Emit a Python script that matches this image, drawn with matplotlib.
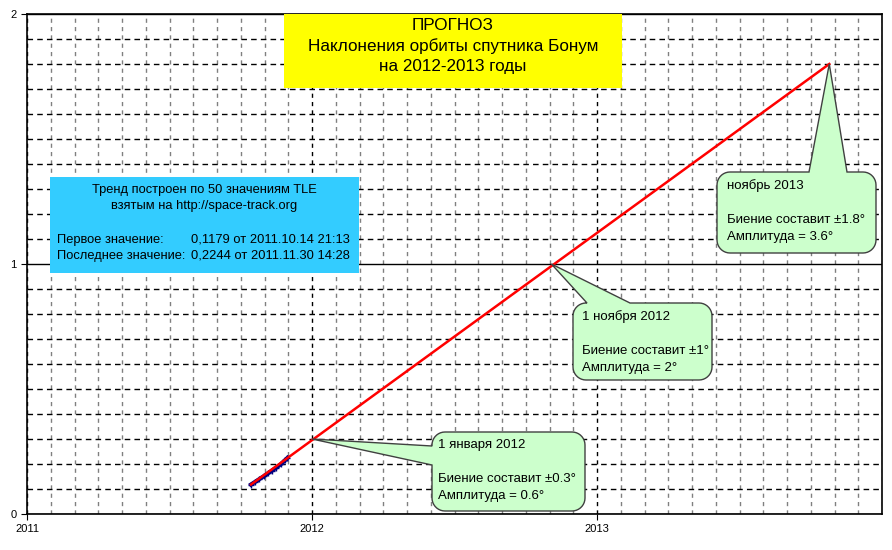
import numpy as np
import matplotlib
matplotlib.use('Agg')
import matplotlib.pyplot as plt
from matplotlib.patches import Polygon, Rectangle
from matplotlib.ticker import MultipleLocator

plt.rcParams['font.family'] = ['Liberation Sans', 'DejaVu Sans']

# TLE values (inclination deviation)
tle_x = [2011.786, 2011.800, 2011.815, 2011.830, 2011.845, 2011.860,
         2011.875, 2011.890, 2011.905, 2011.914]
tle_y = [0.1179, 0.1282, 0.1395, 0.1505, 0.1625, 0.1740,
         0.1860, 0.1985, 0.2150, 0.2244]

# trend line end points
trend_x = [2011.786, 2013.815]
trend_y = [0.1179, 1.80]

# callout anchor points on the trend
call_x = [2012.0, 2012.84, 2013.815]
call_y = [0.30, 1.0, 1.80]
call_txt = ['1 января 2012\n\nБиение составит ±0.3°\nАмплитуда = 0.6°',
            '1 ноября 2012\n\nБиение составит ±1°\nАмплитуда = 2°',
            'ноябрь 2013\n\nБиение составит ±1.8°\nАмплитуда = 3.6°']

year_ticks = [2011, 2012, 2013]
val_ticks = [0, 1, 2]

W, H = 892, 550
fig = plt.figure(figsize=(W / 100, H / 100), dpi=100)
ax = fig.add_axes([27 / W, 1 - 514 / H, 855 / W, 500 / H])

ax.set_xlim(2011, 2014)
ax.set_ylim(0, 2)
ax.set_xticks(year_ticks)
ax.set_xticklabels([str(y) for y in year_ticks])
ax.set_yticks(val_ticks)
ax.xaxis.set_minor_locator(MultipleLocator(1 / 12))
ax.yaxis.set_minor_locator(MultipleLocator(0.1))
ax.tick_params(which='minor', length=0)
ax.tick_params(which='major', length=4, labelsize=8, colors='black')

ax.grid(True, axis='y', which='minor', color='black', linestyle=(0, (4, 3)), lw=1)
ax.grid(True, axis='y', which='major', color='black', linestyle='-', lw=1)
ax.grid(True, axis='x', which='minor', color='#808080', linestyle=(0, (3, 3)), lw=1)
ax.grid(True, axis='x', which='major', color='black', linestyle=(0, (3, 3)), lw=1)
ax.set_axisbelow(True)
for s in ax.spines.values():
    s.set_color('black')
    s.set_linewidth(1.2)

ax.plot(tle_x, tle_y, color='#000080', lw=3, marker='+', ms=4, zorder=3)
ax.plot(trend_x, trend_y, color='#ff0000', lw=1.8, zorder=4)


def px(x, y):
    return x / W, 1 - y / H


def add_box(x0, y0, x1, y1, color):
    fig.add_artist(Rectangle(px(x0, y1), (x1 - x0) / W, (y1 - y0) / H,
                             transform=fig.transFigure, fc=color, ec='none', zorder=2))


def callout(x0, y0, x1, y1, side, b1, b2, tip, r=13):
    def arc(cx, cy, a0, a1):
        t = np.radians(np.linspace(a0, a1, 10))
        return list(zip(cx + r * np.cos(t), cy + r * np.sin(t)))
    pts = []
    pts += arc(x0 + r, y0 + r, 180, 270)
    if side == 'top':
        pts += [(b1, y0), tip, (b2, y0)]
    pts += arc(x1 - r, y0 + r, 270, 360)
    pts += arc(x1 - r, y1 - r, 0, 90)
    pts += arc(x0 + r, y1 - r, 90, 180)
    if side == 'left':
        pts += [(x0, b2), tip, (x0, b1)]
    pts = [px(a, b) for a, b in pts]
    fig.add_artist(Polygon(pts, closed=True, transform=fig.transFigure,
                           fc='#ccffcc', ec='#404040', lw=1, zorder=3))


def tip_px(x, y):
    dx, dy = ax.transData.transform((x, y))
    return dx, H - dy


# title box
add_box(284, 14, 622, 88, '#ffff00')
fig.text(*px(453, 46), 'ПРОГНОЗ\nНаклонения орбиты спутника Бонум\nна 2012-2013 годы',
         ha='center', va='center', fontsize=12.3, linespacing=1.4, zorder=5)

# info box
add_box(50, 177, 359, 273, '#33ccff')
fig.text(*px(204, 198), 'Тренд построен по 50 значениям TLE\nвзятым на http://space-track.org',
         ha='center', va='center', fontsize=9.3, linespacing=1.35, zorder=5)
first = f'{tle_y[0]:.4f}'.replace('.', ',')
last = f'{tle_y[-1]:.4f}'.replace('.', ',')
fig.text(*px(57, 240), 'Первое значение:', ha='left', va='center', fontsize=9.3, zorder=5)
fig.text(*px(350, 240), first + ' от 2011.10.14 21:13', ha='right', va='center', fontsize=9.3, zorder=5)
fig.text(*px(57, 256), 'Последнее значение:', ha='left', va='center', fontsize=9.3, zorder=5)
fig.text(*px(350, 256), last + ' от 2011.11.30 14:28', ha='right', va='center', fontsize=9.3, zorder=5)

# callouts
callout(432, 432, 585, 511, 'left', 446, 465, tip_px(call_x[0], call_y[0]))
callout(573, 303, 712, 380, 'top', 587, 630, tip_px(call_x[1], call_y[1]))
callout(717, 172, 876, 253, 'top', 809, 847, tip_px(call_x[2], call_y[2]))
for (tx, ty), s in zip([(438, 439), (582, 310), (727, 179)], call_txt):
    fig.text(*px(tx, ty), s, ha='left', va='top', fontsize=9.5, linespacing=1.55, zorder=5)

fig.savefig('out.png', dpi=100, facecolor='white')
